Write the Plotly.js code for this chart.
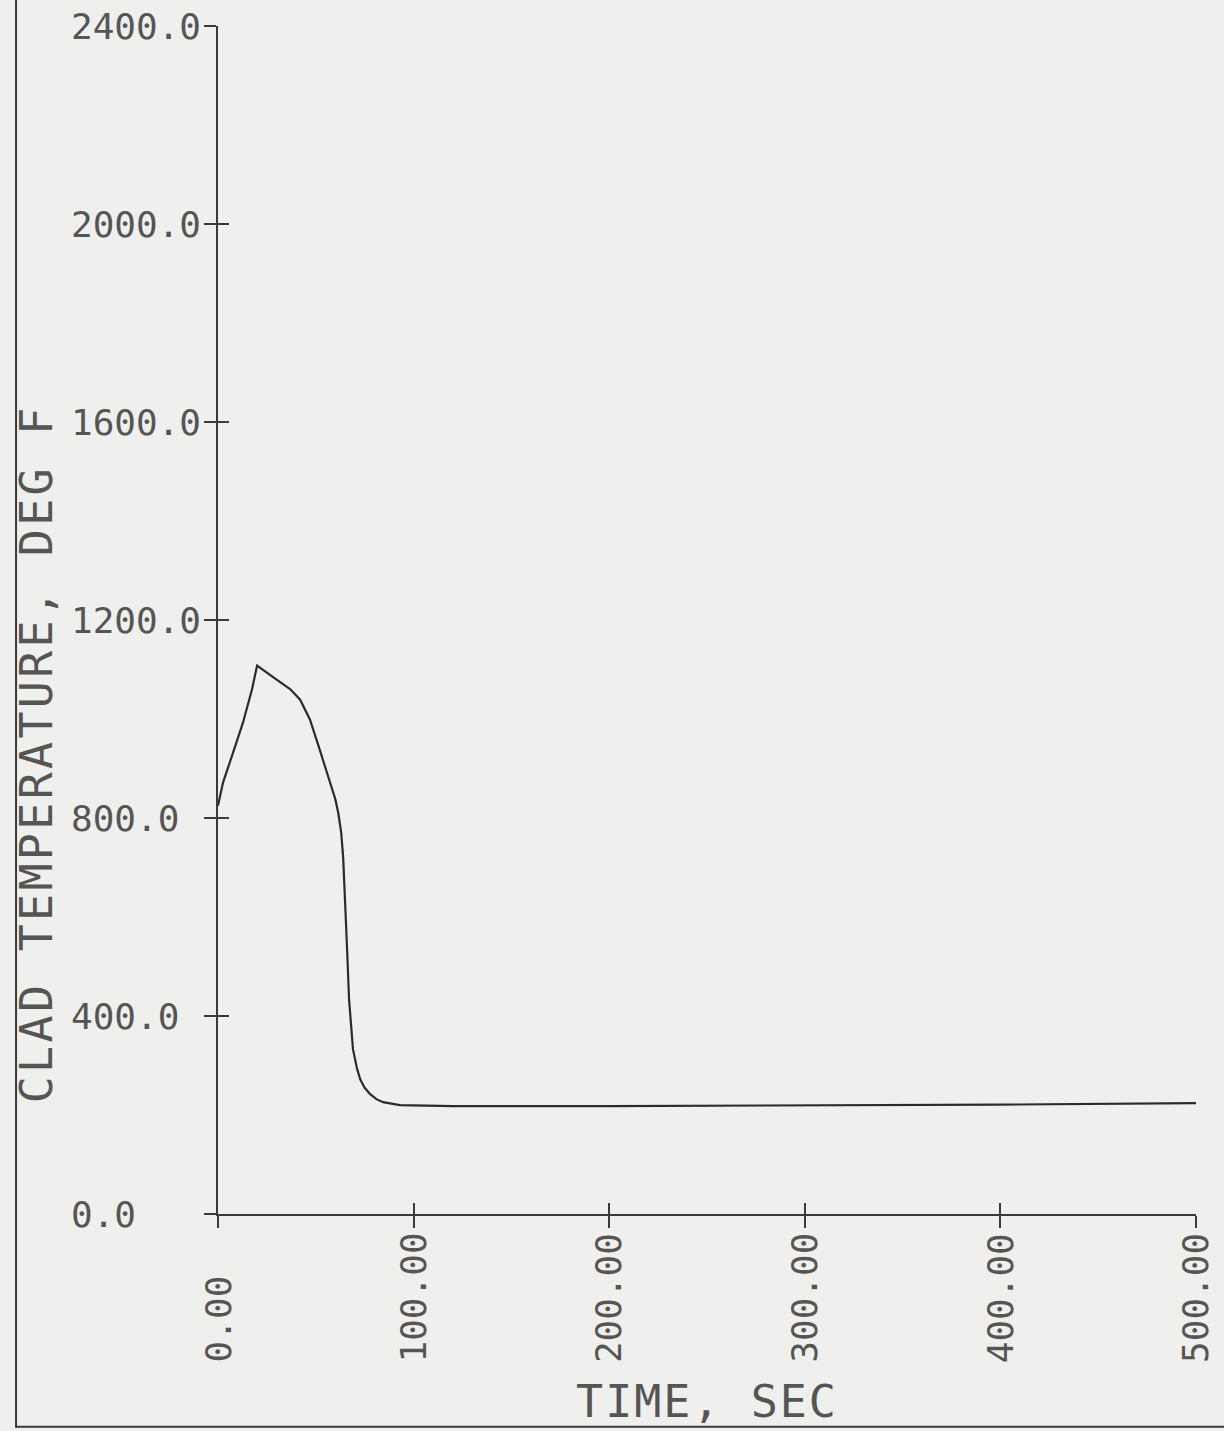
<!DOCTYPE html>
<html>
<head>
<meta charset="utf-8">
<script src="https://cdn.plot.ly/plotly-3.0.1.min.js"></script>
<style>
html,body{margin:0;padding:0;background:#efefed;}
#chart{width:1224px;height:1431px;}
.annotation[data-index="13"] text{letter-spacing:3.3px;}
.xtitle{letter-spacing:2px;}
</style>
</head>
<body>
<div id="chart"></div>
<script>
// Data
const timeSec = [0, 2.6, 7.7, 12.8, 17.4, 20, 28, 37, 42, 47, 52, 57, 60, 61.5, 63, 64, 65, 66, 67, 69, 71, 72.7, 75, 77.8, 81, 84.4, 93, 120, 200, 300, 400, 500];
const cladTempF = [825, 872, 932, 993, 1060, 1108, 1085, 1060, 1039, 999, 938, 878, 838, 810, 770, 720, 636, 535, 434, 333, 295, 272, 255, 242, 232, 226, 220, 218, 218, 219, 221, 224];

const yTickVals = [0, 400, 800, 1200, 1600, 2000, 2400];
const yTickText = ["0.0", "400.0", "800.0", "1200.0", "1600.0", "2000.0", "2400.0"];
const xTickVals = [0, 100, 200, 300, 400, 500];
const xTickText = ["0.00", "100.00", "200.00", "300.00", "400.00", "500.00"];

const xTitle = "TIME, SEC";
const yTitle = "CLAD TEMPERATURE, DEG F";

const FONT = "DejaVu Sans Mono, Liberation Mono, monospace";
const INK = "#3a3a3a";
const LABEL = "#555555";

const trace = {
  x: timeSec, y: cladTempF,
  type: "scatter", mode: "lines",
  line: {color: "#2b2b2b", width: 2.2},
  hoverinfo: "skip", showlegend: false
};
// invisible trace that activates the overlay axes (ticks crossing the axis lines)
const ghost = {
  x: [xTickVals[0]], y: [yTickVals[0]], xaxis: "x2", yaxis: "y2",
  type: "scatter", mode: "markers", marker: {opacity: 0, size: 1},
  hoverinfo: "skip", showlegend: false
};

const annotations = [];
yTickVals.forEach((v, i) => annotations.push({
  xref: "paper", yref: "y", x: -0.152, y: v, xanchor: "left", yanchor: "middle",
  text: yTickText[i], showarrow: false,
  font: {family: FONT, size: 36, color: LABEL}
}));
xTickVals.forEach((v, i) => annotations.push({
  xref: "x", yref: "paper", x: v, y: -0.127, xanchor: "center", yanchor: "bottom",
  text: xTickText[i], textangle: -90, showarrow: false,
  font: {family: FONT, size: 36, color: LABEL}
}));
annotations.push({
  xref: "paper", yref: "paper", x: -0.186, y: 0.387, xanchor: "center", yanchor: "middle",
  text: yTitle, textangle: -90, showarrow: false,
  font: {family: FONT, size: 45, color: LABEL}
});

const xRange = [0, 500];
const yRange = [0, 2400];

const layout = {
  width: 1224, height: 1431,
  paper_bgcolor: "#efefed", plot_bgcolor: "rgba(0,0,0,0)",
  margin: {l: 218, r: 28, t: 26, b: 217},
  showlegend: false,
  xaxis: {
    range: xRange, tickvals: xTickVals, showticklabels: false,
    ticks: "outside", ticklen: 12, tickwidth: 2, tickcolor: INK,
    showline: true, linecolor: INK, linewidth: 2, mirror: false,
    showgrid: false, zeroline: false,
    title: {text: xTitle, standoff: 158, font: {family: FONT, size: 45, color: LABEL}},
    automargin: false
  },
  yaxis: {
    range: yRange, tickvals: yTickVals, showticklabels: false,
    ticks: "outside", ticklen: 12, tickwidth: 2, tickcolor: INK,
    showline: true, linecolor: INK, linewidth: 2,
    showgrid: false, zeroline: false, automargin: false
  },
  xaxis2: {
    overlaying: "x", anchor: "y2", side: "bottom",
    range: xRange, tickvals: xTickVals, showticklabels: false,
    ticks: "inside", ticklen: 11, tickwidth: 2, tickcolor: INK,
    showline: false, showgrid: false, zeroline: false
  },
  yaxis2: {
    overlaying: "y", anchor: "x2", side: "left",
    range: yRange, tickvals: yTickVals, showticklabels: false,
    ticks: "inside", ticklen: 11, tickwidth: 2, tickcolor: INK,
    showline: false, showgrid: false, zeroline: false
  },
  annotations: annotations,
  shapes: [
    {type: "line", xref: "paper", yref: "paper", x0: -0.2065, x1: -0.2065, y0: -0.18, y1: 1.03,
     line: {color: INK, width: 2}},
    {type: "line", xref: "paper", yref: "paper", x0: -0.2065, x1: 1.03, y0: -0.179, y1: -0.179,
     line: {color: INK, width: 2}}
  ]
};

Plotly.newPlot("chart", [trace, ghost], layout, {staticPlot: true, displayModeBar: false});
</script>
</body>
</html>
